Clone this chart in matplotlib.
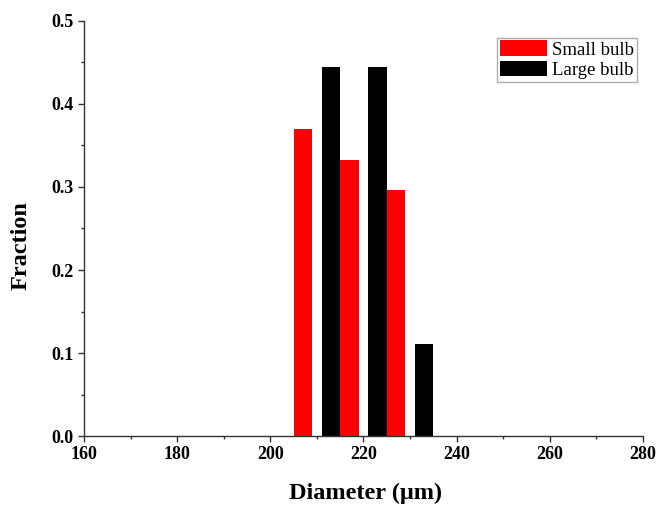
import matplotlib
matplotlib.use("Agg")
import matplotlib.pyplot as plt
from matplotlib.ticker import MultipleLocator

small_x = [207, 217, 227]
small_y = [0.370, 0.333, 0.296]
large_x = [213, 223, 233]
large_y = [0.444, 0.444, 0.111]
bar_width = 4

plt.rcParams['font.family'] = ['Liberation Serif', 'DejaVu Serif']

fig = plt.figure(figsize=(6.59, 5.08), dpi=100)
ax = fig.add_axes([0.1275, 0.1417, 0.848, 0.817])

ax.bar(small_x, small_y, width=bar_width, color='#ff0000', label='Small bulb')
ax.bar(large_x, large_y, width=bar_width, color='#000000', label='Large bulb')

ax.set_xlim(160, 280)
ax.set_ylim(0, 0.5)
ax.xaxis.set_major_locator(MultipleLocator(20))
ax.xaxis.set_minor_locator(MultipleLocator(10))
ax.yaxis.set_major_locator(MultipleLocator(0.1))
ax.yaxis.set_minor_locator(MultipleLocator(0.05))
ax.yaxis.set_major_formatter(matplotlib.ticker.FormatStrFormatter('%.1f'))

for s in ['top', 'right']:
    ax.spines[s].set_visible(False)
for s in ['left', 'bottom']:
    ax.spines[s].set_linewidth(1.0)
    ax.spines[s].set_color('#333333')

ax.tick_params(which='major', direction='out', length=4, width=1, labelsize=13, colors='#333333', labelcolor='black')
ax.tick_params(which='minor', direction='out', length=2.5, width=1, colors='#333333')
for lab in ax.get_xticklabels() + ax.get_yticklabels():
    lab.set_fontweight('bold')

ax.set_xlabel('Diameter (μm)', fontsize=17.5, fontweight='bold')
ax.set_ylabel('Fraction', fontsize=17.5, fontweight='bold')
ax.xaxis.set_label_coords(0.503, -0.112)
ax.yaxis.set_label_coords(-0.094, 0.46)

leg = ax.legend(loc='upper right', bbox_to_anchor=(0.99, 0.96), fontsize=13.5, frameon=True, fancybox=False,
                edgecolor='#999999', handlelength=2.5, handleheight=0.9, handletextpad=0.3,
                borderpad=0.15, labelspacing=0.1, borderaxespad=0.0)
leg.get_frame().set_linewidth(1.0)

fig.savefig('out.png', dpi=100)
